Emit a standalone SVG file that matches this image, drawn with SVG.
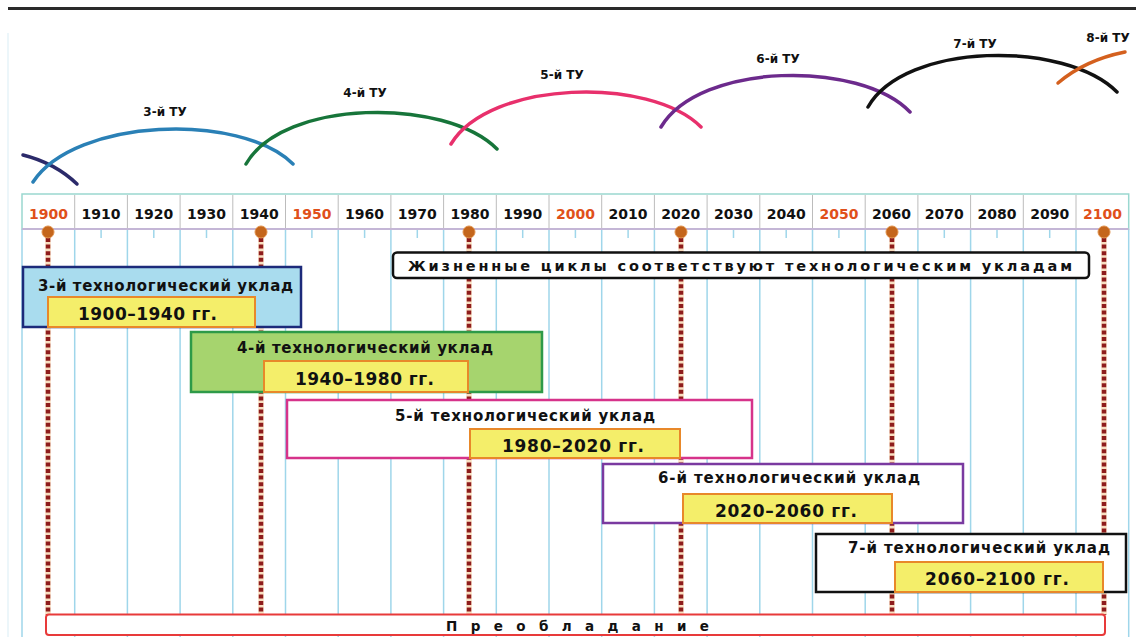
<svg xmlns="http://www.w3.org/2000/svg" width="1136" height="637" viewBox="0 0 1136 637">
<style>
.t{font-family:"DejaVu Sans","Liberation Sans",sans-serif;font-weight:bold;fill:#111;}
.yr{font-family:"DejaVu Sans","Liberation Sans",sans-serif;font-weight:bold;font-size:14px;fill:#111;text-anchor:middle;}
.yo{fill:#e0501a;}
.arc{fill:none;stroke-width:3.5;stroke-linecap:round;}
.lbl{font-size:12px;text-anchor:middle;}
.ttl{font-size:15px;}
.yt{font-size:17px;}
.yel{fill:#f4ee6a;stroke:#e8882a;stroke-width:2;}
.g{stroke:#9fd6ea;stroke-width:1.5;}
.tk{stroke:#9fd6ea;stroke-width:1.5;}
.dl{stroke:#8e1c1c;stroke-width:4.5;stroke-dasharray:4 2.6;}
.du{stroke:#f4c48e;stroke-width:5.5;}
.dot{fill:#c4661c;stroke:#e0904a;stroke-width:1;}
</style>
<rect x="0" y="0" width="1136" height="637" fill="#fff"/>
<line x1="8" y1="8.5" x2="1136" y2="8.5" stroke="#2a2a2a" stroke-width="3"/>
<line x1="8" y1="33" x2="8" y2="637" stroke="#e6f3f8" stroke-width="1.5"/>

<g id="arcs">
  <g id="tu2"><path class="arc" stroke="#2b2a6a" d="M23 155 Q55 163 77 184"/></g>
  <g id="tu3"><path class="arc" stroke="#2a80b6" d="M33 182 C75 118 240 112 293 164"/><text class="t lbl" x="165" y="116">3-й ТУ</text></g>
  <g id="tu4"><path class="arc" stroke="#17753a" d="M246 164 C283 99 445 97 497 149"/><text class="t lbl" x="365" y="97">4-й ТУ</text></g>
  <g id="tu5"><path class="arc" stroke="#e8306c" d="M451 144 C490 80 650 76 701 127"/><text class="t lbl" x="562" y="79">5-й ТУ</text></g>
  <g id="tu6"><path class="arc" stroke="#6c2a8c" d="M661 127 C700 62 860 60 910 112"/><text class="t lbl" x="778" y="63">6-й ТУ</text></g>
  <g id="tu7"><path class="arc" stroke="#111" d="M868 107 C905 42 1065 40 1117 92"/><text class="t lbl" x="975" y="48">7-й ТУ</text></g>
  <g id="tu8"><path class="arc" stroke="#d4601e" d="M1058 83 Q1085 60 1125 52"/><text class="t lbl" x="1108" y="42">8-й ТУ</text></g>
</g>

<g id="grid">
  <line class="g" x1="22" y1="229" x2="22" y2="637"/>
  <line class="g" x1="74.7" y1="229" x2="74.7" y2="637"/>
  <line class="g" x1="127.4" y1="229" x2="127.4" y2="637"/>
  <line class="g" x1="180.1" y1="229" x2="180.1" y2="637"/>
  <line class="g" x1="232.8" y1="229" x2="232.8" y2="637"/>
  <line class="g" x1="285.5" y1="229" x2="285.5" y2="637"/>
  <line class="g" x1="338.2" y1="229" x2="338.2" y2="637"/>
  <line class="g" x1="390.9" y1="229" x2="390.9" y2="637"/>
  <line class="g" x1="443.6" y1="229" x2="443.6" y2="637"/>
  <line class="g" x1="496.3" y1="229" x2="496.3" y2="637"/>
  <line class="g" x1="549" y1="229" x2="549" y2="637"/>
  <line class="g" x1="601.7" y1="229" x2="601.7" y2="637"/>
  <line class="g" x1="654.4" y1="229" x2="654.4" y2="637"/>
  <line class="g" x1="707.1" y1="229" x2="707.1" y2="637"/>
  <line class="g" x1="759.8" y1="229" x2="759.8" y2="637"/>
  <line class="g" x1="812.5" y1="229" x2="812.5" y2="637"/>
  <line class="g" x1="865.2" y1="229" x2="865.2" y2="637"/>
  <line class="g" x1="917.9" y1="229" x2="917.9" y2="637"/>
  <line class="g" x1="970.6" y1="229" x2="970.6" y2="637"/>
  <line class="g" x1="1023.3" y1="229" x2="1023.3" y2="637"/>
  <line class="g" x1="1076" y1="229" x2="1076" y2="637"/>
  <line class="g" x1="1128.7" y1="229" x2="1128.7" y2="637"/>
  <line class="tk" x1="101.1" y1="229" x2="101.1" y2="238"/>
  <line class="tk" x1="153.8" y1="229" x2="153.8" y2="238"/>
  <line class="tk" x1="206.5" y1="229" x2="206.5" y2="238"/>
  <line class="tk" x1="311.9" y1="229" x2="311.9" y2="238"/>
  <line class="tk" x1="364.6" y1="229" x2="364.6" y2="238"/>
  <line class="tk" x1="417.3" y1="229" x2="417.3" y2="238"/>
  <line class="tk" x1="522.7" y1="229" x2="522.7" y2="238"/>
  <line class="tk" x1="575.4" y1="229" x2="575.4" y2="238"/>
  <line class="tk" x1="628.1" y1="229" x2="628.1" y2="238"/>
  <line class="tk" x1="733.5" y1="229" x2="733.5" y2="238"/>
  <line class="tk" x1="786.2" y1="229" x2="786.2" y2="238"/>
  <line class="tk" x1="838.9" y1="229" x2="838.9" y2="238"/>
  <line class="tk" x1="944.3" y1="229" x2="944.3" y2="238"/>
  <line class="tk" x1="997" y1="229" x2="997" y2="238"/>
  <line class="tk" x1="1049.7" y1="229" x2="1049.7" y2="238"/>
</g>

<g id="header">
  <rect x="22" y="194" width="1106.7" height="35" fill="#fff" stroke="#9ad8d0" stroke-width="1.5"/>
  <g stroke="#bcbcbc" stroke-width="1">
    <line x1="74.7" y1="195" x2="74.7" y2="228"/><line x1="127.4" y1="195" x2="127.4" y2="228"/>
    <line x1="180.1" y1="195" x2="180.1" y2="228"/><line x1="232.8" y1="195" x2="232.8" y2="228"/>
    <line x1="285.5" y1="195" x2="285.5" y2="228"/><line x1="338.2" y1="195" x2="338.2" y2="228"/>
    <line x1="390.9" y1="195" x2="390.9" y2="228"/><line x1="443.6" y1="195" x2="443.6" y2="228"/>
    <line x1="496.3" y1="195" x2="496.3" y2="228"/><line x1="549" y1="195" x2="549" y2="228"/>
    <line x1="601.7" y1="195" x2="601.7" y2="228"/><line x1="654.4" y1="195" x2="654.4" y2="228"/>
    <line x1="707.1" y1="195" x2="707.1" y2="228"/><line x1="759.8" y1="195" x2="759.8" y2="228"/>
    <line x1="812.5" y1="195" x2="812.5" y2="228"/><line x1="865.2" y1="195" x2="865.2" y2="228"/>
    <line x1="917.9" y1="195" x2="917.9" y2="228"/><line x1="970.6" y1="195" x2="970.6" y2="228"/>
    <line x1="1023.3" y1="195" x2="1023.3" y2="228"/><line x1="1076" y1="195" x2="1076" y2="228"/>
  </g>
  <line x1="22" y1="229" x2="1128.7" y2="229" stroke="#c4b6d6" stroke-width="2"/>
  <text class="yr yo" x="48.4" y="219">1900</text>
  <text class="yr" x="101.1" y="219">1910</text>
  <text class="yr" x="153.8" y="219">1920</text>
  <text class="yr" x="206.5" y="219">1930</text>
  <text class="yr" x="259.2" y="219">1940</text>
  <text class="yr yo" x="311.9" y="219">1950</text>
  <text class="yr" x="364.6" y="219">1960</text>
  <text class="yr" x="417.3" y="219">1970</text>
  <text class="yr" x="470" y="219">1980</text>
  <text class="yr" x="522.7" y="219">1990</text>
  <text class="yr yo" x="575.4" y="219">2000</text>
  <text class="yr" x="628.1" y="219">2010</text>
  <text class="yr" x="680.8" y="219">2020</text>
  <text class="yr" x="733.5" y="219">2030</text>
  <text class="yr" x="786.2" y="219">2040</text>
  <text class="yr yo" x="838.9" y="219">2050</text>
  <text class="yr" x="891.6" y="219">2060</text>
  <text class="yr" x="944.3" y="219">2070</text>
  <text class="yr" x="997" y="219">2080</text>
  <text class="yr" x="1049.7" y="219">2090</text>
  <text class="yr yo" x="1102.4" y="219">2100</text>
</g>

<g id="connectors">
  <g class="du" opacity="0.55">
    <line x1="48" y1="236" x2="48" y2="615"/>
    <line x1="261" y1="236" x2="261" y2="615"/>
    <line x1="469" y1="236" x2="469" y2="615"/>
    <line x1="681" y1="236" x2="681" y2="615"/>
    <line x1="892" y1="236" x2="892" y2="615"/>
    <line x1="1104" y1="236" x2="1104" y2="615"/>
  </g>
  <g class="dl">
    <line x1="48" y1="238" x2="48" y2="615"/>
    <line x1="261" y1="238" x2="261" y2="615"/>
    <line x1="469" y1="238" x2="469" y2="615"/>
    <line x1="681" y1="238" x2="681" y2="615"/>
    <line x1="892" y1="238" x2="892" y2="615"/>
    <line x1="1104" y1="238" x2="1104" y2="615"/>
  </g>
  <circle class="dot" cx="48" cy="232" r="6"/>
  <circle class="dot" cx="261" cy="232" r="6"/>
  <circle class="dot" cx="469" cy="232" r="6"/>
  <circle class="dot" cx="681" cy="232" r="6"/>
  <circle class="dot" cx="892" cy="232" r="6"/>
  <circle class="dot" cx="1104" cy="232" r="6"/>
</g>

<g id="note">
  <rect x="393" y="252.5" width="696" height="25.5" rx="4" fill="#fff" stroke="#111" stroke-width="2.5"/>
  <text class="t" x="408" y="271" font-size="14.5" textLength="664" lengthAdjust="spacing">Жизненные циклы соответствуют технологическим укладам</text>
</g>

<g id="uklad3">
  <rect x="23" y="267" width="278" height="60" fill="#a9dcee" stroke="#1c2a7a" stroke-width="2.5"/>
  <text class="t ttl" x="38" y="290.5" textLength="255" lengthAdjust="spacing">3-й технологический уклад</text>
  <rect class="yel" x="48" y="297" width="207" height="30"/>
  <text class="t yt" x="78" y="320" textLength="139" lengthAdjust="spacing">1900–1940 гг.</text>
</g>

<g id="uklad4">
  <rect x="191" y="332" width="351" height="60" fill="#a6d46e" stroke="#2e9a48" stroke-width="2.5"/>
  <text class="t ttl" x="237" y="353" textLength="256" lengthAdjust="spacing">4-й технологический уклад</text>
  <rect class="yel" x="264" y="361" width="204" height="31"/>
  <text class="t yt" x="295" y="385" textLength="139" lengthAdjust="spacing">1940–1980 гг.</text>
</g>

<g id="uklad5">
  <rect x="287" y="400" width="465" height="58" fill="#fff" stroke="#d6338a" stroke-width="2.5"/>
  <text class="t ttl" x="395" y="421" textLength="260" lengthAdjust="spacing">5-й технологический уклад</text>
  <rect class="yel" x="470" y="429" width="210" height="29"/>
  <text class="t yt" x="502" y="452" textLength="142" lengthAdjust="spacing">1980–2020 гг.</text>
</g>

<g id="uklad6">
  <rect x="603" y="464" width="360" height="59" fill="#fff" stroke="#7a3aa0" stroke-width="2.5"/>
  <text class="t ttl" x="658" y="483" textLength="262" lengthAdjust="spacing">6-й технологический уклад</text>
  <rect class="yel" x="683" y="494" width="209" height="29"/>
  <text class="t yt" x="715" y="517" textLength="142" lengthAdjust="spacing">2020–2060 гг.</text>
</g>

<g id="uklad7">
  <rect x="816" y="534" width="310" height="58" fill="#fff" stroke="#111" stroke-width="2.5"/>
  <text class="t ttl" x="848" y="553" textLength="262" lengthAdjust="spacing">7-й технологический уклад</text>
  <rect class="yel" x="895" y="562" width="208" height="30"/>
  <text class="t yt" x="925" y="585" textLength="144" lengthAdjust="spacing">2060–2100 гг.</text>
</g>

<g id="preobladanie">
  <rect x="46" y="614.5" width="1059" height="20.5" rx="3" fill="#fff" stroke="#e83a3a" stroke-width="2"/>
  <text class="t" x="446" y="631" font-size="13.5" textLength="263" lengthAdjust="spacing">Преобладание</text>
</g>
</svg>
